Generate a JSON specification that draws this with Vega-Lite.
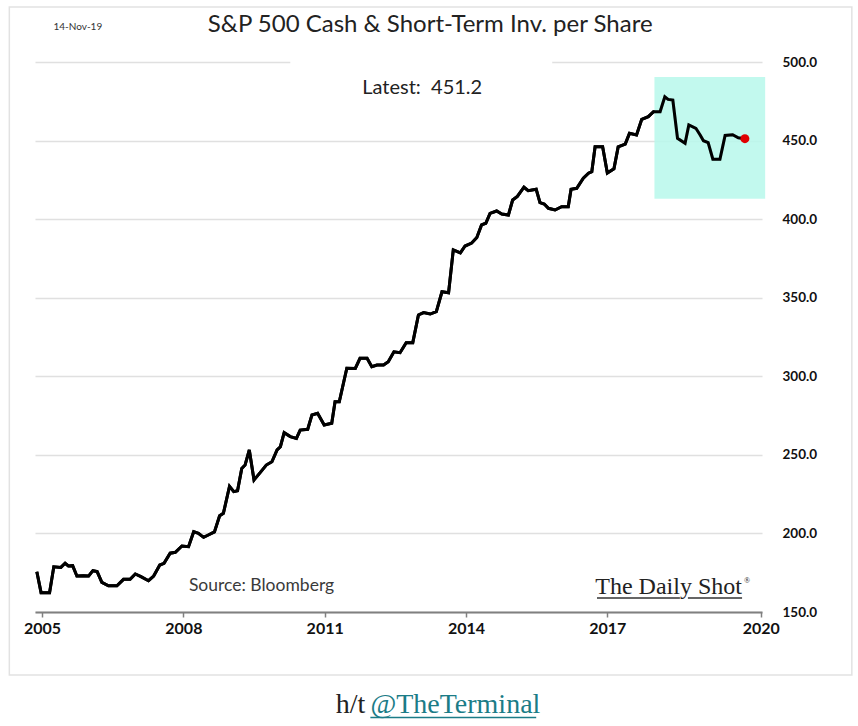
{
  "$schema": "https://vega.github.io/schema/vega-lite/v6.json",
  "autosize": "none",
  "width": 727,
  "height": 550,
  "padding": {"left": 35, "top": 62, "right": 96, "bottom": 114},
  "background": "white",
  "config": {"view": {"stroke": null}},
  "datasets": {
    "series": [
      {"t": 2004.89, "v": 175.6}, {"t": 2004.98, "v": 162.3}, {"t": 2005.16, "v": 162.3}, {"t": 2005.25, "v": 178.8},
      {"t": 2005.40, "v": 178.4}, {"t": 2005.49, "v": 181.0}, {"t": 2005.56, "v": 179.3}, {"t": 2005.65, "v": 179.5},
      {"t": 2005.74, "v": 172.9}, {"t": 2005.88, "v": 173.1}, {"t": 2005.99, "v": 172.9}, {"t": 2006.08, "v": 176.3},
      {"t": 2006.17, "v": 175.7}, {"t": 2006.27, "v": 168.9}, {"t": 2006.41, "v": 166.7}, {"t": 2006.59, "v": 166.7},
      {"t": 2006.73, "v": 170.8}, {"t": 2006.87, "v": 170.8}, {"t": 2006.98, "v": 174.2}, {"t": 2007.10, "v": 172.5},
      {"t": 2007.26, "v": 169.9}, {"t": 2007.37, "v": 172.9}, {"t": 2007.50, "v": 179.9}, {"t": 2007.59, "v": 181.0},
      {"t": 2007.72, "v": 187.4}, {"t": 2007.83, "v": 188.0}, {"t": 2007.97, "v": 192.0}, {"t": 2008.11, "v": 191.6},
      {"t": 2008.22, "v": 201.1}, {"t": 2008.32, "v": 200.1}, {"t": 2008.43, "v": 197.5}, {"t": 2008.53, "v": 199.0},
      {"t": 2008.66, "v": 201.0}, {"t": 2008.77, "v": 211.2}, {"t": 2008.85, "v": 212.8}, {"t": 2008.98, "v": 230.0},
      {"t": 2009.07, "v": 226.6}, {"t": 2009.15, "v": 227.2}, {"t": 2009.24, "v": 241.4}, {"t": 2009.31, "v": 243.5},
      {"t": 2009.40, "v": 253.1}, {"t": 2009.50, "v": 234.0}, {"t": 2009.63, "v": 238.7}, {"t": 2009.76, "v": 243.5},
      {"t": 2009.88, "v": 245.6}, {"t": 2009.99, "v": 253.1}, {"t": 2010.06, "v": 255.2}, {"t": 2010.14, "v": 264.1},
      {"t": 2010.27, "v": 261.6}, {"t": 2010.40, "v": 260.5}, {"t": 2010.48, "v": 265.8}, {"t": 2010.64, "v": 266.3},
      {"t": 2010.73, "v": 275.4}, {"t": 2010.85, "v": 276.4}, {"t": 2010.99, "v": 269.0}, {"t": 2011.15, "v": 270.1},
      {"t": 2011.22, "v": 283.8}, {"t": 2011.31, "v": 283.8}, {"t": 2011.47, "v": 305.1}, {"t": 2011.65, "v": 305.0},
      {"t": 2011.75, "v": 311.4}, {"t": 2011.90, "v": 311.4}, {"t": 2012.00, "v": 306.1}, {"t": 2012.11, "v": 307.2},
      {"t": 2012.25, "v": 307.2}, {"t": 2012.35, "v": 309.3}, {"t": 2012.47, "v": 315.6}, {"t": 2012.60, "v": 315.0},
      {"t": 2012.73, "v": 321.4}, {"t": 2012.87, "v": 321.4}, {"t": 2012.99, "v": 339.0}, {"t": 2013.10, "v": 340.5},
      {"t": 2013.24, "v": 339.6}, {"t": 2013.37, "v": 341.1}, {"t": 2013.49, "v": 353.8}, {"t": 2013.63, "v": 353.2},
      {"t": 2013.73, "v": 380.4}, {"t": 2013.88, "v": 378.5}, {"t": 2013.98, "v": 382.9}, {"t": 2014.12, "v": 384.8},
      {"t": 2014.23, "v": 388.3}, {"t": 2014.33, "v": 396.3}, {"t": 2014.42, "v": 397.4}, {"t": 2014.51, "v": 403.7},
      {"t": 2014.65, "v": 405.2}, {"t": 2014.76, "v": 403.3}, {"t": 2014.90, "v": 402.6}, {"t": 2014.99, "v": 412.2},
      {"t": 2015.09, "v": 414.5}, {"t": 2015.23, "v": 420.3}, {"t": 2015.32, "v": 418.1}, {"t": 2015.49, "v": 419.0},
      {"t": 2015.57, "v": 410.5}, {"t": 2015.66, "v": 409.6}, {"t": 2015.75, "v": 406.9}, {"t": 2015.89, "v": 405.8},
      {"t": 2016.03, "v": 407.9}, {"t": 2016.17, "v": 407.9}, {"t": 2016.23, "v": 419.0}, {"t": 2016.35, "v": 419.6},
      {"t": 2016.49, "v": 426.0}, {"t": 2016.60, "v": 429.2}, {"t": 2016.67, "v": 430.2}, {"t": 2016.74, "v": 446.0},
      {"t": 2016.90, "v": 446.0}, {"t": 2017.00, "v": 429.3}, {"t": 2017.14, "v": 432.0}, {"t": 2017.23, "v": 446.0},
      {"t": 2017.38, "v": 447.8}, {"t": 2017.47, "v": 454.6}, {"t": 2017.62, "v": 453.5}, {"t": 2017.73, "v": 463.5},
      {"t": 2017.87, "v": 465.2}, {"t": 2017.98, "v": 468.4}, {"t": 2018.12, "v": 468.4}, {"t": 2018.22, "v": 477.9},
      {"t": 2018.29, "v": 476.2}, {"t": 2018.39, "v": 475.8}, {"t": 2018.49, "v": 451.4}, {"t": 2018.65, "v": 448.3},
      {"t": 2018.73, "v": 459.9}, {"t": 2018.88, "v": 457.8}, {"t": 2018.97, "v": 453.5}, {"t": 2019.04, "v": 449.9},
      {"t": 2019.14, "v": 448.7}, {"t": 2019.24, "v": 438.1}, {"t": 2019.39, "v": 438.1}, {"t": 2019.50, "v": 453.3},
      {"t": 2019.66, "v": 453.7}, {"t": 2019.78, "v": 451.8}, {"t": 2019.92, "v": 451.2}
    ],
    "latest": [{"t": 2019.92, "v": 451.2}],
    "one": [{}]
  },
  "layer": [
    {
      "data": {"name": "series"},
      "mark": {"type": "line", "color": "black", "strokeWidth": 3, "strokeJoin": "miter"},
      "encoding": {
        "x": {
          "field": "t", "type": "quantitative", "title": null,
          "scale": {"domain": [2004.851, 2020.283], "nice": false, "zero": false},
          "axis": {
            "values": [2005, 2008, 2011, 2014, 2017, 2020.256],
            "labelExpr": "datum.value > 2019 ? '2020' : format(datum.value, 'd')",
            "grid": false, "domainColor": "#808080", "domainWidth": 2,
            "tickColor": "#808080", "tickSize": 5, "tickWidth": 1.5,
            "labelFont": "Lato", "labelFontSize": 16, "labelFontWeight": "bold",
            "labelColor": "#111111", "labelPadding": 3, "labelFlush": false
          }
        },
        "y": {
          "field": "v", "type": "quantitative", "title": null,
          "scale": {"domain": [150, 500], "nice": false, "zero": false},
          "axis": {
            "orient": "right", "grid": true,
            "values": [150, 200, 250, 300, 350, 400, 450, 500],
            "format": ".1f", "ticks": false, "domain": false,
            "gridColor": "#e0e0e0", "gridWidth": 1.5,
            "labelFont": "Lato", "labelFontSize": 13.5, "labelFontWeight": "bold",
            "labelColor": "#111111", "labelPadding": 20, "labelAlign": "left"
          }
        }
      }
    },
    {
      "data": {"name": "one"},
      "mark": {"type": "rect", "fill": null, "stroke": "#e2e2e2", "strokeWidth": 1.5},
      "encoding": {
        "x": {"datum": 2004.306, "type": "quantitative"},
        "x2": {"datum": 2022.19},
        "y": {"datum": 535.0, "type": "quantitative"},
        "y2": {"datum": 109.9}
      }
    },
    {
      "data": {"name": "one"},
      "mark": {"type": "rect", "fill": "white"},
      "encoding": {
        "x": {"datum": 2010.27, "type": "quantitative"},
        "x2": {"datum": 2015.83},
        "y": {"datum": 496, "type": "quantitative"},
        "y2": {"datum": 504}
      }
    },
    {
      "data": {"name": "one"},
      "mark": {"type": "rect", "fill": "#b7f8eb", "fillOpacity": 0.85},
      "encoding": {
        "x": {"datum": 2018.0, "type": "quantitative"},
        "x2": {"datum": 2020.35},
        "y": {"datum": 413, "type": "quantitative"},
        "y2": {"datum": 490.5}
      }
    },
    {
      "data": {"name": "series"},
      "mark": {"type": "line", "color": "black", "strokeWidth": 3, "strokeJoin": "miter"},
      "encoding": {
        "x": {"field": "t", "type": "quantitative"},
        "y": {"field": "v", "type": "quantitative"}
      }
    },
    {
      "data": {"name": "latest"},
      "mark": {"type": "point", "filled": true, "color": "#e00000", "size": 80, "opacity": 1},
      "encoding": {
        "x": {"field": "t", "type": "quantitative"},
        "y": {"field": "v", "type": "quantitative"}
      }
    },
    {
      "data": {"name": "one"},
      "mark": {"type": "text", "text": "S&P 500 Cash & Short-Term Inv. per Share", "font": "Lato", "fontSize": 24, "color": "#222222", "align": "center", "baseline": "middle"},
      "encoding": {"x": {"datum": 2013.24, "type": "quantitative"}, "y": {"datum": 523.6, "type": "quantitative"}}
    },
    {
      "data": {"name": "one"},
      "mark": {"type": "text", "text": "14-Nov-19", "font": "Lato", "fontSize": 10, "color": "#333333", "align": "center", "baseline": "middle"},
      "encoding": {"x": {"datum": 2005.76, "type": "quantitative"}, "y": {"datum": 522.3, "type": "quantitative"}}
    },
    {
      "data": {"name": "one"},
      "mark": {"type": "text", "text": "Latest:\u00a0\u00a0451.2", "font": "Lato", "fontSize": 20, "color": "#222222", "align": "center", "baseline": "middle"},
      "encoding": {"x": {"datum": 2013.07, "type": "quantitative"}, "y": {"datum": 483.5, "type": "quantitative"}}
    },
    {
      "data": {"name": "one"},
      "mark": {"type": "text", "text": "Source: Bloomberg", "font": "Lato", "fontSize": 17.5, "color": "#3a3a3a", "align": "center", "baseline": "middle"},
      "encoding": {"x": {"datum": 2009.66, "type": "quantitative"}, "y": {"datum": 166.5, "type": "quantitative"}}
    },
    {
      "data": {"name": "one"},
      "mark": {"type": "text", "text": "The Daily Shot", "font": "Liberation Serif", "fontSize": 24, "color": "#222222", "align": "center", "baseline": "middle"},
      "encoding": {"x": {"datum": 2018.3, "type": "quantitative"}, "y": {"datum": 166.2, "type": "quantitative"}}
    },
    {
      "data": {"name": "one"},
      "mark": {"type": "text", "text": "®", "font": "Liberation Serif", "fontSize": 8, "color": "#222222", "align": "left", "baseline": "middle"},
      "encoding": {"x": {"datum": 2019.9, "type": "quantitative"}, "y": {"datum": 169.5, "type": "quantitative"}}
    },
    {
      "data": {"name": "one"},
      "mark": {"type": "rule", "color": "#333333", "strokeWidth": 1.5},
      "encoding": {"x": {"datum": 2016.78, "type": "quantitative"}, "x2": {"datum": 2018.54}, "y": {"datum": 158.9, "type": "quantitative"}}
    },
    {
      "data": {"name": "one"},
      "mark": {"type": "rule", "color": "#333333", "strokeWidth": 1.5},
      "encoding": {"x": {"datum": 2018.71, "type": "quantitative"}, "x2": {"datum": 2019.86}, "y": {"datum": 158.9, "type": "quantitative"}}
    },
    {
      "data": {"name": "one"},
      "mark": {"type": "text", "text": "h/t", "font": "Liberation Serif", "fontSize": 28, "color": "#222222", "align": "right", "baseline": "middle"},
      "encoding": {"x": {"datum": 2011.86, "type": "quantitative"}, "y": {"datum": 90.8, "type": "quantitative"}}
    },
    {
      "data": {"name": "one"},
      "mark": {"type": "text", "text": "@TheTerminal", "font": "Liberation Serif", "fontSize": 28, "color": "#1b7c87", "align": "left", "baseline": "middle"},
      "encoding": {"x": {"datum": 2011.97, "type": "quantitative"}, "y": {"datum": 90.8, "type": "quantitative"}}
    },
    {
      "data": {"name": "one"},
      "mark": {"type": "rule", "color": "#1b7c87", "strokeWidth": 1.5},
      "encoding": {"x": {"datum": 2011.97, "type": "quantitative"}, "x2": {"datum": 2015.49}, "y": {"datum": 82.8, "type": "quantitative"}}
    }
  ]
}
